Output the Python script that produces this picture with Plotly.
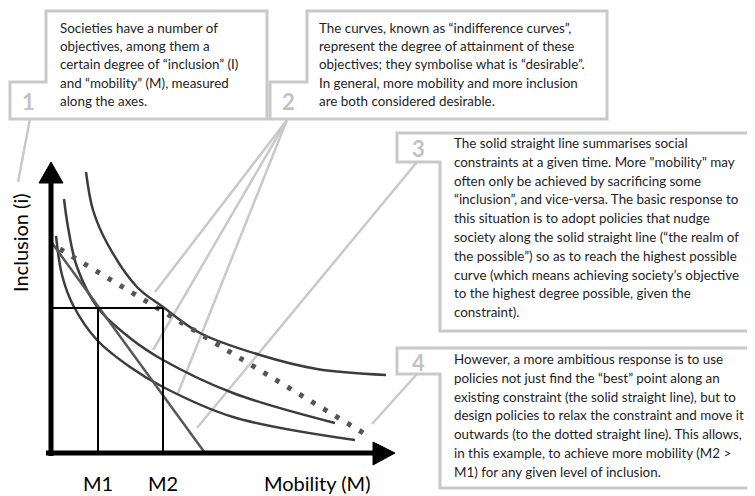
import plotly.graph_objects as go

W, H = 755, 496
PAGE = 8          # the page body margin that the browser adds round the figure
X0, Y0 = 51, 453  # pixel position of the origin of the diagram on the page

# indifference curves, in (mobility, inclusion) units
curve_a_m = [35, 42, 56, 86, 112, 149, 209, 266, 335]
curve_a_i = [281, 243, 210, 166, 146, 120, 98, 84, 78]
curve_b_m = [13, 17, 26, 47, 79, 112, 182, 284]
curve_b_i = [254, 226, 186, 145, 115, 93, 60, 30]
curve_c_m = [5, 11, 22, 46, 79, 112, 182, 304]
curve_c_i = [217, 178, 148, 113, 86, 66, 36, 13]

# constraints: solid (current) and dotted (relaxed)
constraint_m = [1, 154]
constraint_i = [210, 0]
relaxed_m = [9, 319]
relaxed_i = [204, 16]

m1, m2 = 47, 112
inclusion_level = 145
tick_labels = ["M1", "M2"]

box1_text = [
    "Societies have a number of",
    "objectives, among them a",
    "certain degree of \u201cinclusion\u201d (I)",
    "and \u201cmobility\u201d (M), measured",
    "along the axes.",
]
box2_text = [
    "The curves, known as \u201cindifference curves\u201d,",
    "represent the degree of attainment of these",
    "objectives; they symbolise what is \u201cdesirable\u201d.",
    "In general, more mobility and more inclusion",
    "are both considered desirable.",
]
box3_text = [
    "The solid straight line summarises social",
    "constraints at a given time. More \"mobility\" may",
    "often only be achieved by sacrificing some",
    "\u201cinclusion\u201d, and vice-versa. The basic response to",
    "this situation is to adopt policies that nudge",
    "society along the solid straight line (\u201cthe realm of",
    "the possible\u201d) so as to reach the highest possible",
    "curve (which means achieving society\u2019s objective",
    "to the highest degree possible, given the",
    "constraint).",
]
box4_text = [
    "However, a more ambitious response is to use",
    "policies not just find the \u201cbest\u201d point along an",
    "existing constraint (the solid straight line), but to",
    "design policies to relax the constraint and move it",
    "outwards (to the dotted straight line). This allows,",
    "in this example, to achieve more mobility (M2 >",
    "M1) for any given level of inclusion.",
]

# layout of the notes, in page pixels: outline, number position, text start, line step
boxes = [
    dict(outline=[(46, 11), (267, 11), (267, 119), (10, 119), (10, 82), (46, 82)],
         num="1", num_at=(28, 101), text=box1_text, text_at=(58, 28), step=18.2),
    dict(outline=[(307, 11), (607, 11), (607, 119), (270, 119), (270, 82), (307, 82)],
         num="2", num_at=(288, 101), text=box2_text, text_at=(317, 28), step=18.2),
    dict(outline=[(397, 133), (760, 133), (760, 331), (440, 331), (440, 162), (397, 162)],
         num="3", num_at=(418, 148), text=box3_text, text_at=(452, 143), step=18.8),
    dict(outline=[(397, 348), (760, 348), (760, 488), (440, 488), (440, 374), (397, 374)],
         num="4", num_at=(418, 362), text=box4_text, text_at=(452, 359), step=18.8),
]
callouts = [
    ((30, 119), (18, 182)),
    ((287, 120), (155, 292)),
    ((287, 120), (153, 350)),
    ((287, 120), (178, 393)),
    ((417, 162), (197, 428)),
    ((417, 374), (372, 424)),
]


def d(p):
    return p[0] - X0, Y0 - p[1]


def path(points, close=True):
    pts = [d(p) for p in points]
    s = "M " + " L ".join("{},{}".format(x, y) for x, y in pts)
    return s + (" Z" if close else "")


GREY = "#c9c9c9"
CURVE = "#3c3c3c"
FONT = "Lato"
TXT = 13.4

fig = go.Figure()

for (a, b) in callouts:
    (xa, ya), (xb, yb) = d(a), d(b)
    fig.add_trace(go.Scatter(x=[xa, xb], y=[ya, yb], mode="lines",
                             line=dict(color=GREY, width=2.5), hoverinfo="skip"))

for cm, ci in [(curve_a_m, curve_a_i), (curve_b_m, curve_b_i), (curve_c_m, curve_c_i)]:
    fig.add_trace(go.Scatter(x=cm, y=ci, mode="lines",
                             line=dict(color=CURVE, width=2.5, shape="spline", smoothing=1.0)))

fig.add_trace(go.Scatter(x=constraint_m, y=constraint_i, mode="lines",
                         line=dict(color="#585858", width=2.5)))
fig.add_trace(go.Scatter(x=relaxed_m, y=relaxed_i, mode="lines",
                         line=dict(color="#555555", width=5, dash="4.5px,9.5px")))

# drop lines for M1 / M2 at the chosen inclusion level
fig.add_trace(go.Scatter(x=[0, m2], y=[inclusion_level, inclusion_level], mode="lines",
                         line=dict(color="black", width=2)))
for m in (m1, m2):
    fig.add_trace(go.Scatter(x=[m, m], y=[0, inclusion_level], mode="lines",
                             line=dict(color="black", width=2)))

shapes = []
# axes with arrow heads
shapes.append(dict(type="line", x0=0, y0=-3, x1=0, y1=275, line=dict(color="black", width=5)))
shapes.append(dict(type="line", x0=-5, y0=0, x1=326, y1=0, line=dict(color="black", width=5)))
shapes.append(dict(type="path", path=path([(39, 183), (63, 183), (51, 162)]),
                   fillcolor="black", line=dict(color="black", width=1)))
shapes.append(dict(type="path", path=path([(373, 442), (373, 465), (395, 453)]),
                   fillcolor="black", line=dict(color="black", width=1)))

annotations = []
for b in boxes:
    shapes.append(dict(type="path", path=path(b["outline"]), fillcolor="white",
                       line=dict(color=GREY, width=3), layer="above"))
    nx, ny = d(b["num_at"])
    annotations.append(dict(x=nx, y=ny, text="<b>" + b["num"] + "</b>", showarrow=False,
                            xanchor="center", yanchor="middle",
                            font=dict(family=FONT, size=22, color="#c2c2c2")))
    tx, ty = b["text_at"]
    for k, line in enumerate(b["text"]):
        x, y = d((tx, ty + k * b["step"]))
        annotations.append(dict(x=x, y=y, text=line, showarrow=False,
                                xanchor="left", yanchor="middle",
                                font=dict(family=FONT, size=TXT, color="#1e1e1e")))

for m, lab in zip([m1, m2], tick_labels):
    annotations.append(dict(x=m, y=-30, text=lab, showarrow=False, xanchor="center",
                            yanchor="middle", font=dict(family=FONT, size=20, color="black")))
annotations.append(dict(x=266, y=-30, text="Mobility (M)", showarrow=False, xanchor="center",
                        yanchor="middle", font=dict(family=FONT, size=20, color="black")))
annotations.append(dict(x=-31, y=210, text="Inclusion (i)", showarrow=False, textangle=-90,
                        xanchor="center", yanchor="middle",
                        font=dict(family=FONT, size=20, color="black")))

# the figure sits inside the page margin, so its ranges start PAGE pixels in
fig.update_layout(
    width=W - PAGE, height=H - PAGE,
    margin=dict(l=0, r=0, t=0, b=0),
    paper_bgcolor="white", plot_bgcolor="white",
    showlegend=False,
    xaxis=dict(range=[PAGE - X0, W - X0], visible=False, fixedrange=True),
    yaxis=dict(range=[Y0 - H, Y0 - PAGE], visible=False, fixedrange=True),
    shapes=shapes,
    annotations=annotations,
)

fig.write_html("out.html")
